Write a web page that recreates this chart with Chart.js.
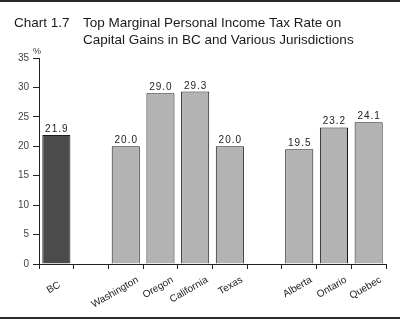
<!DOCTYPE html>
<html>
<head>
<meta charset="utf-8">
<script src="https://cdn.jsdelivr.net/npm/chart.js@4"></script>
<style>
  html, body { margin: 0; padding: 0; background: #fff; }
  #wrap { width: 400px; height: 325px; position: relative; }
</style>
</head>
<body>
<div id="wrap"><canvas id="c" width="400" height="325"></canvas></div>
<script>
// Jurisdictions (empty strings are spacer slots between groups)
const categories = ['BC', '', 'Washington', 'Oregon', 'California', 'Texas', '', 'Alberta', 'Ontario', 'Quebec'];
// Top marginal rate on capital gains, %
const rates = [21.9, null, 20.0, 29.0, 29.3, 20.0, null, 19.5, 23.2, 24.1];
const yTicks = [0, 5, 10, 15, 20, 25, 30, 35];
const chartNumber = 'Chart 1.7';
const titleLines = ['Top Marginal Personal Income Tax Rate on', 'Capital Gains in BC and Various Jurisdictions'];
const unitLabel = '%';

const FONT = '"Liberation Sans", Arial, Helvetica, sans-serif';

const barColors = categories.map(c => c === 'BC' ? '#4b4b4b' : '#b3b3b3');

const decorations = {
  id: 'decorations',
  afterDraw(chart) {
    const ctx = chart.ctx;
    const area = chart.chartArea;
    ctx.save();
    // rules above and below the figure
    ctx.fillStyle = '#2a2a2a';
    ctx.fillRect(0, 0, 400, 2);
    ctx.fillRect(0, 317, 400, 2);
    // heading
    ctx.fillStyle = '#1a1a1a';
    ctx.font = '13.5px ' + FONT;
    ctx.textBaseline = 'alphabetic';
    ctx.textAlign = 'left';
    ctx.fillText(chartNumber, 14, 27);
    titleLines.forEach((t, i) => ctx.fillText(t, 83, 27 + i * 16.5));
    // unit
    ctx.font = '9px ' + FONT;
    ctx.fillStyle = '#333';
    ctx.textAlign = 'center';
    ctx.fillText(unitLabel, area.left - 2, area.top - 4);
    // value labels
    const meta = chart.getDatasetMeta(0);
    ctx.font = '10px ' + FONT;
    ctx.fillStyle = '#222';
    if ('letterSpacing' in ctx) ctx.letterSpacing = '1px';
    meta.data.forEach((bar, i) => {
      const v = rates[i];
      if (v === null) return;
      ctx.fillText(v.toFixed(1), bar.x + 0.5, bar.y - 3);
    });
    ctx.restore();
  }
};

new Chart(document.getElementById('c'), {
  type: 'bar',
  data: {
    labels: categories,
    datasets: [{
      data: rates,
      backgroundColor: barColors,
      borderColor: '#1a1a1a',
      borderWidth: 1,
      borderSkipped: 'bottom',
      barPercentage: 0.81,
      categoryPercentage: 1.0
    }]
  },
  options: {
    responsive: false,
    animation: false,
    events: [],
    layout: { padding: { top: 58, right: 14, left: 0, bottom: 0 } },
    plugins: {
      legend: { display: false },
      tooltip: { enabled: false },
      title: { display: false }
    },
    scales: {
      x: {
        offset: true,
        afterFit(scale) { scale.height = 61; },
        grid: {
          offset: true,
          drawOnChartArea: false,
          drawTicks: true,
          tickLength: 5,
          color: '#222'
        },
        border: { display: true, color: '#222', width: 1 },
        ticks: {
          autoSkip: false,
          maxRotation: 30,
          minRotation: 30,
          labelOffset: 12,
          padding: 5,
          color: '#222',
          font: { family: FONT, size: 10 },
          // the short first label sits a little closer to its bar
          callback(value, index) {
            const name = this.getLabelForValue(value);
            return index === 0 ? name + '\u2002\u2002' : name;
          }
        }
      },
      y: {
        min: 0,
        max: 35,
        afterFit(scale) { scale.width = 39; },
        afterBuildTicks(scale) { scale.ticks = yTicks.map(v => ({ value: v })); },
        grid: {
          drawOnChartArea: false,
          drawTicks: true,
          tickLength: 6,
          color: '#222'
        },
        border: { display: true, color: '#222', width: 1 },
        ticks: {
          padding: 4,
          color: '#444',
          font: { family: FONT, size: 10 }
        }
      }
    }
  },
  plugins: [decorations]
});
</script>
</body>
</html>
